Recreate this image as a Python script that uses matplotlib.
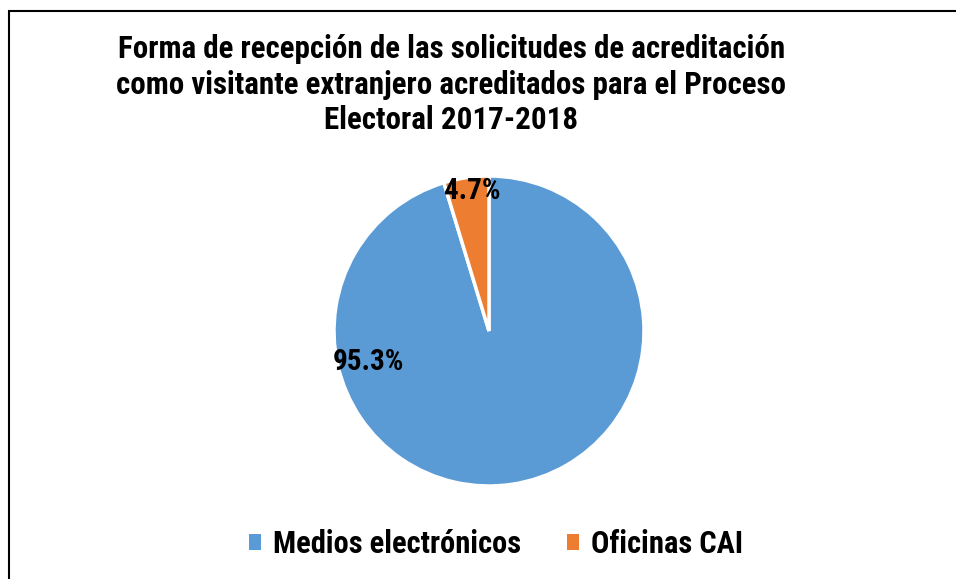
# -*- coding: utf-8 -*-
import matplotlib
matplotlib.use('Agg')
import matplotlib.pyplot as plt
from matplotlib.patches import Rectangle, Patch

# Datos
categorias = ['Medios electrónicos', 'Oficinas CAI']
porcentajes = [95.3, 4.7]
colores = ['#5B9BD5', '#ED7D31']
titulo = ('Forma de recepción de las solicitudes de acreditación\n'
          'como visitante extranjero acreditados para el Proceso\n'
          'Electoral 2017-2018')

plt.rcParams['font.family'] = ['Roboto Condensed', 'Liberation Sans', 'DejaVu Sans']
plt.rcParams['font.weight'] = 'bold'

fig = plt.figure(figsize=(9.56, 5.79), dpi=100)

# Marco del gráfico (solo se ven los lados izquierdo y superior)
fig.patches.append(Rectangle((8.5 / 956, -0.05), 1.05, 1 - 10.5 / 579 + 0.05,
                             transform=fig.transFigure, fill=False,
                             edgecolor='black', linewidth=1.5))

# Eje para la tarta
cx, cy = 489 / 956, 1 - 331 / 579
rw, rh = 155 / 956, 155 / 579
ax = fig.add_axes([cx - rw, cy - rh, 2 * rw, 2 * rh])
wedges, _ = ax.pie(porcentajes, colors=colores, startangle=90, counterclock=False,
                   wedgeprops=dict(edgecolor='white', linewidth=2.5))
ax.set_xlim(-1, 1)
ax.set_ylim(-1, 1)
ax.set_aspect('auto')

# Etiquetas de porcentaje (posición de la línea base, en radios)
posiciones = [(-0.78, -0.252), (-0.11, 0.852)]
for (x, y), v in zip(posiciones, porcentajes):
    ax.text(x, y, f'{v}%', ha='center', va='baseline', fontsize=21,
            fontweight='bold', color='black')

fig.text(0.472, 0.854, titulo, ha='center', va='center', fontsize=22.3,
         fontweight='bold', linespacing=1.22)

handles = [Patch(facecolor=c, edgecolor='none') for c in colores]
fig.legend(handles, categorias, loc='center', bbox_to_anchor=(496 / 956, 1 - 544 / 579),
           ncol=2, frameon=False, fontsize=22, handlelength=0.4, handleheight=0.4,
           handletextpad=0.4, columnspacing=1.5, borderpad=0, borderaxespad=0)

fig.savefig('out.png', dpi=100)
